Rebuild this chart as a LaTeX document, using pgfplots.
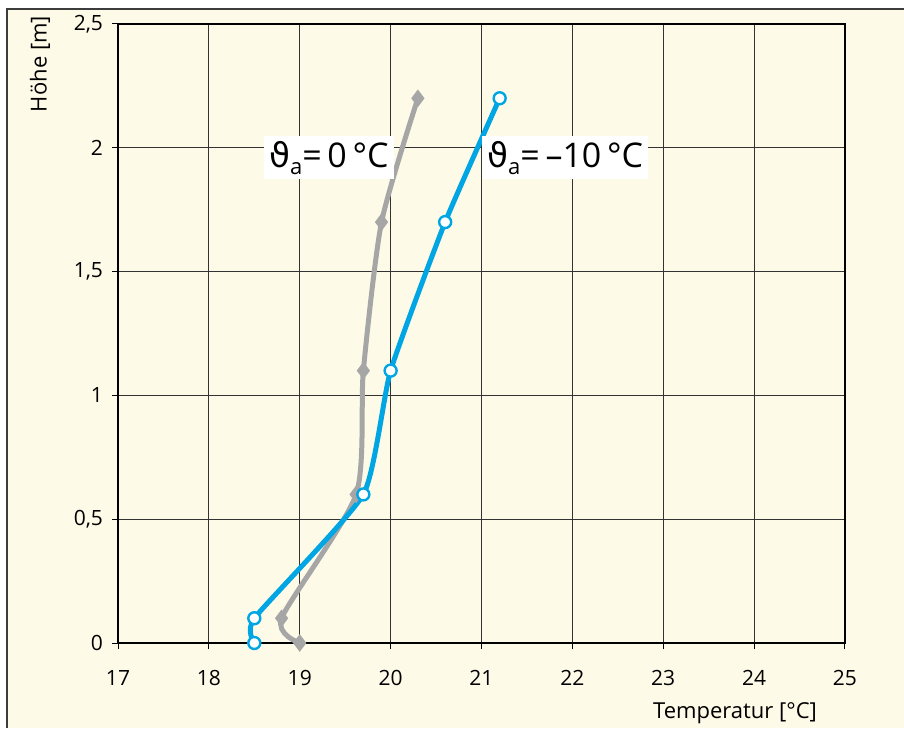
\documentclass[border=0pt]{standalone}
\usepackage{fontspec}
\setmainfont{Open Sans}
\newfontfamily\dejavu{DejaVu Sans}
\usepackage{pgfplots}
\pgfplotsset{compat=1.18}
\definecolor{cream}{RGB}{254,250,232}
\definecolor{lblue}{RGB}{0,166,228}
\definecolor{lgray}{RGB}{166,166,166}
\definecolor{framec}{RGB}{60,60,60}
\begin{document}
\begin{tikzpicture}[x=1pt,y=1pt]
\useasboundingbox (0,0) rectangle (452,364);
\fill[white] (0,0) rectangle (452,364);
\fill[cream] (3.5,0) rectangle (452,359.5);
\draw[framec,line width=0.8pt] (3.5,0) -- (3.5,359.5) -- (452,359.5);
\begin{axis}[
  at={(59pt,42.5pt)}, anchor=south west,
  scale only axis, width=363.5pt, height=309.5pt,
  xmin=17, xmax=25, ymin=0, ymax=2.5,
  xtick={17,18,...,25}, ytick={0,0.5,1,1.5,2,2.5},
  yticklabels={0,{0,5},1,{1,5},2,{2,5}},
  xtick pos=bottom, ytick pos=left,
  grid=major,
  major grid style={line width=0.5pt, color=black!80},
  axis line style={line width=1pt, black},
  tick style={line width=0.5pt, black},
  tick align=outside, major tick length=3pt,
  axis background/.style={fill=cream},
  /pgf/number format/assume math mode=true,
  tick label style={font=\fontsize{10.5}{12}\selectfont},
  xticklabel style={yshift=-7pt},
  yticklabel style={xshift=-1pt},
]
\addplot[lgray, line width=2.5pt, smooth, tension=0.4, mark=diamond*, mark size=4pt, mark options={fill=lgray, draw=lgray, line width=0.5pt}]
  coordinates {(19.0,0) (18.8,0.1) (19.62,0.6) (19.7,1.1) (19.9,1.7) (20.3,2.2)};
\addplot[lblue, line width=2.5pt, smooth, tension=0.3, mark=*, mark size=3pt, mark options={fill=white, draw=lblue, line width=1.2pt}]
  coordinates {(18.5,0) (18.5,0.1) (19.7,0.6) (20.0,1.1) (20.6,1.7) (21.2,2.2)};
\node[fill=white, inner sep=2.5pt, font=\fontsize{17}{19}\selectfont] at (axis cs:19.32,1.96) {{\dejavu ϑ}\raisebox{-0.4ex}{\fontsize{11}{12}\selectfont a}=\,0\,°C};
\node[fill=white, inner sep=2.5pt, font=\fontsize{17}{19}\selectfont] at (axis cs:21.92,1.96) {{\dejavu ϑ}\raisebox{-0.4ex}{\fontsize{11}{12}\selectfont a}=\,–10\,°C};
\end{axis}
\node[rotate=90, font=\fontsize{11}{12}\selectfont] at (20,332) {Höhe [m]};
\node[anchor=east, font=\fontsize{11}{12}\selectfont] at (412,7.5) {Temperatur [°C]};
\end{tikzpicture}
\end{document}
